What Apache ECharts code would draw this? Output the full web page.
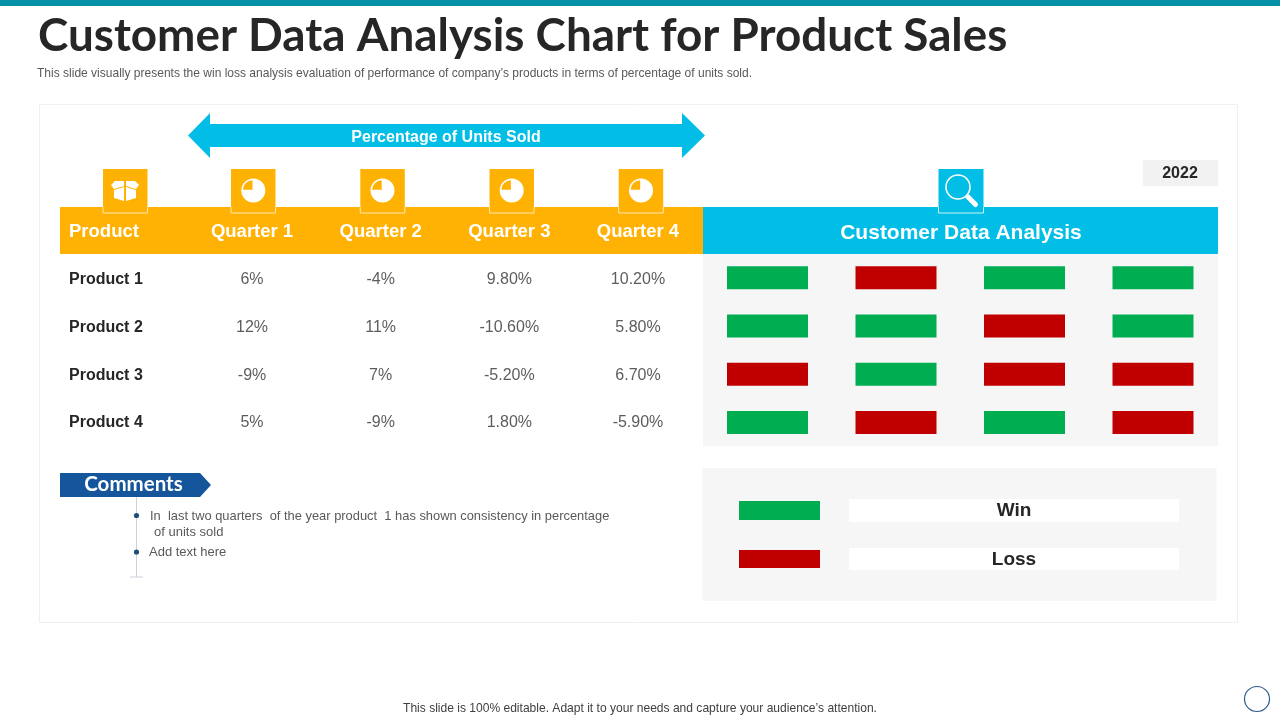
<!DOCTYPE html>
<html>
<head>
<meta charset="utf-8">
<style>html,body{margin:0;padding:0;background:#fff}#c{width:1280px;height:720px}</style>
<script src="https://cdn.jsdelivr.net/npm/echarts@6/dist/echarts.min.js"></script>
</head>
<body>
<div id="c"></div>
<script>
const products = ["Product 1", "Product 2", "Product 3", "Product 4"];
const quarters = ["Quarter 1", "Quarter 2", "Quarter 3", "Quarter 4"];
const q1Percent = [6, 12, -9, 5];
const q2Percent = [-4, 11, 7, -9];
const q3Percent = [9.8, -10.6, -5.2, 1.8];
const q4Percent = [10.2, 5.8, 6.7, -5.9];
const quarterDecimals = [0, 0, 2, 2];
const q1Outcome = ["Win", "Win", "Loss", "Win"];
const q2Outcome = ["Loss", "Win", "Win", "Loss"];
const q3Outcome = ["Win", "Loss", "Loss", "Win"];
const q4Outcome = ["Win", "Win", "Loss", "Loss"];
const outcomeNames = ["Win", "Loss"];

const percents = [q1Percent, q2Percent, q3Percent, q4Percent];
const outcomes = [q1Outcome, q2Outcome, q3Outcome, q4Outcome];

const GREEN = "#00AD50", RED = "#C00000", ORANGE = "#FFB204", CYAN = "#02BEE6", NAVY = "#15559B";
const SANS = "'Liberation Sans', Arial, sans-serif";

const tableData = [];
percents.forEach((col, q) => col.forEach((v, p) => tableData.push({
  value: [q, p], label: { formatter: v.toFixed(quarterDecimals[q]) + "%" }
})));
const cellsFor = name => {
  const out = [];
  outcomes.forEach((col, q) => col.forEach((o, p) => { if (o === name) out.push([q, p]); }));
  return out;
};

const rect = (x, y, w, h, fill, extra) => Object.assign({ type: "rect", shape: { x, y, width: w, height: h }, style: { fill } }, extra || {});
const text = (x, y, t, size, fill, weight, align, family) => ({
  type: "text", x, y,
  style: { text: t, fontSize: size, fill, fontWeight: weight || "normal", fontFamily: family || SANS, align: align || "left", verticalAlign: "middle" }
});
const poly = (points, fill) => ({ type: "polygon", shape: { points }, style: { fill } });
const line = (x1, y1, x2, y2, stroke, w) => ({ type: "line", shape: { x1, y1, x2, y2 }, style: { stroke, lineWidth: w } });

const iconBox = (x, w, color) => [
  rect(x, 169, w, 44, color),
  line(x, 213, x + w, 213, "#FFE9B0", 1),
  line(x, 207, x, 213, "#FFE9B0", 1),
  line(x + w, 207, x + w, 213, "#FFE9B0", 1)
];
const pieIcon = (cx) => [
  { type: "circle", shape: { cx, cy: 190.5, r: 12 }, style: { fill: "#fff" } },
  { type: "sector", shape: { cx: cx - 0.8, cy: 189.7, r: 9.5, startAngle: Math.PI, endAngle: Math.PI * 1.5 }, style: { fill: ORANGE } }
];

const graphics = [].concat(
  [
    rect(0, 0, 1280, 6, "#0491A8"),
    text(38, 36, "Customer Data Analysis Chart for Product Sales", 45.8, "#262626", 700, "left", "Lato, sans-serif"),
    text(37, 73.5, "This slide visually presents the win loss analysis evaluation of performance of company\u2019s products in terms of percentage of units sold.", 12.03, "#595959"),
    { type: "rect", shape: { x: 39.5, y: 104.5, width: 1198, height: 518 }, style: { fill: "#fff", stroke: "#F0F0F0", lineWidth: 1 } },
    poly([[188, 135.5], [210, 113], [210, 124], [682, 124], [682, 113], [705, 135.5], [682, 158], [682, 147], [210, 147], [210, 158]], CYAN),
    text(446, 137.5, "Percentage of Units Sold", 16, "#fff", 700, "center"),
    rect(1143, 160, 75, 26, "#F2F2F2"),
    text(1180, 174, "2022", 16, "#262626", 700, "center"),
    rect(60, 207, 643, 47, ORANGE),
    rect(703, 207, 515, 47, CYAN),
    rect(703, 254, 515, 192, "#F6F6F6")
  ],
  iconBox(103, 44.5, ORANGE),
  iconBox(231, 44.5, ORANGE),
  iconBox(360.3, 44.5, ORANGE),
  iconBox(489.5, 44.5, ORANGE),
  iconBox(618.7, 44.5, ORANGE),
  [
    poly([[111, 185], [115, 181], [124, 181], [124, 186], [114, 189]], "#fff"),
    poly([[139, 185], [135, 181], [126, 181], [126, 186], [136, 189]], "#fff"),
    poly([[114, 190], [124, 187], [124, 201], [114, 198]], "#fff"),
    poly([[136, 190], [126, 187], [126, 201], [136, 198]], "#fff")
  ],
  pieIcon(253.3), pieIcon(382.5), pieIcon(511.7), pieIcon(641),
  [
    rect(938.5, 169, 45, 44, CYAN),
    line(938.5, 213, 983.5, 213, "#CFF3FB", 1),
    line(938.5, 207, 938.5, 213, "#CFF3FB", 1),
    line(983.5, 207, 983.5, 213, "#CFF3FB", 1),
    { type: "circle", shape: { cx: 958, cy: 187, r: 12 }, style: { fill: "none", stroke: "#fff", lineWidth: 1.6 } },
    { type: "line", shape: { x1: 968, y1: 197, x2: 975.5, y2: 204.5 }, style: { stroke: "#fff", lineWidth: 5, lineCap: "round" } },
    text(69, 231.5, "Product", 18.5, "#fff", 700),
    text(961, 233.5, "Customer Data Analysis", 21, "#fff", 700, "center"),
    poly([[60, 473], [200, 473], [211, 485], [200, 497], [60, 497]], NAVY),
    text(133.5, 484.5, "Comments", 20.5, "#fff", 700, "center", "Lato, sans-serif"),
    line(136.5, 497, 136.5, 577, "#CBD3DA", 1),
    line(130, 577, 143, 577, "#CBD3DA", 1),
    { type: "circle", shape: { cx: 136.5, cy: 515.5, r: 2.6 }, style: { fill: "#1F4E79" } },
    { type: "circle", shape: { cx: 136.5, cy: 552, r: 2.6 }, style: { fill: "#1F4E79" } },
    text(150, 516, "In  last two quarters  of the year product  1 has shown consistency in percentage", 12.9, "#595959"),
    text(154, 532, "of units sold", 13, "#595959"),
    text(149, 552.5, "Add text here", 13, "#595959"),
    rect(702.5, 468, 514, 133, "#F6F6F6"),
    rect(739, 501, 81, 19, GREEN),
    rect(739, 550, 81, 18, RED),
    rect(849, 499, 330, 23, "#fff"),
    rect(849, 548, 330, 22, "#fff"),
    text(1014, 510.5, outcomeNames[0], 19, "#262626", 700, "center"),
    text(1014, 559.5, outcomeNames[1], 19, "#262626", 700, "center"),
    text(640, 708.5, "This slide is 100% editable. Adapt it to your needs and capture your audience\u2019s attention.", 12.05, "#404040", "normal", "center"),
    { type: "circle", shape: { cx: 1257, cy: 699, r: 12.5 }, style: { fill: "#fff", stroke: "#2F5B8C", lineWidth: 1.2 } }
  ]
);

const hiddenAxis = { show: false };
const option = {
  animation: false,
  backgroundColor: "#fff",
  graphic: { elements: graphics },
  grid: [
    { left: 187.7, top: 256.2, width: 514.6, height: 190.6 },
    { left: 703.25, top: 253.7, width: 514, height: 193 }
  ],
  xAxis: [
    { gridIndex: 0, type: "category", position: "top", data: quarters, z: 5,
      axisLine: { show: false }, axisTick: { show: false }, splitLine: { show: false },
      axisLabel: { color: "#fff", fontSize: 18.5, fontWeight: 700, fontFamily: SANS, margin: 15 } },
    Object.assign({ gridIndex: 1, type: "category", data: quarters }, hiddenAxis)
  ],
  yAxis: [
    { gridIndex: 0, type: "category", inverse: true, data: products, z: 5,
      axisLine: { show: false }, axisTick: { show: false }, splitLine: { show: false },
      axisLabel: { color: "#262626", fontSize: 16, fontWeight: 700, fontFamily: SANS, align: "left", margin: 118.7 } },
    Object.assign({ gridIndex: 1, type: "category", inverse: true, data: products }, hiddenAxis)
  ],
  series: [
    { type: "scatter", name: "Percentage of Units Sold", xAxisIndex: 0, yAxisIndex: 0, z: 5, silent: true,
      symbolSize: 1, itemStyle: { color: "rgba(0,0,0,0)" }, data: tableData,
      label: { show: true, position: "inside", color: "#333", fontSize: 16, fontFamily: SANS } },
    { type: "scatter", name: outcomeNames[0], xAxisIndex: 1, yAxisIndex: 1, z: 5, silent: true,
      symbol: "rect", symbolSize: [81, 23], itemStyle: { color: GREEN, opacity: 1 }, data: cellsFor(outcomeNames[0]) },
    { type: "scatter", name: outcomeNames[1], xAxisIndex: 1, yAxisIndex: 1, z: 5, silent: true,
      symbol: "rect", symbolSize: [81, 23], itemStyle: { color: RED, opacity: 1 }, data: cellsFor(outcomeNames[1]) }
  ]
};
echarts.init(document.getElementById("c")).setOption(option);
</script>
</body>
</html>
